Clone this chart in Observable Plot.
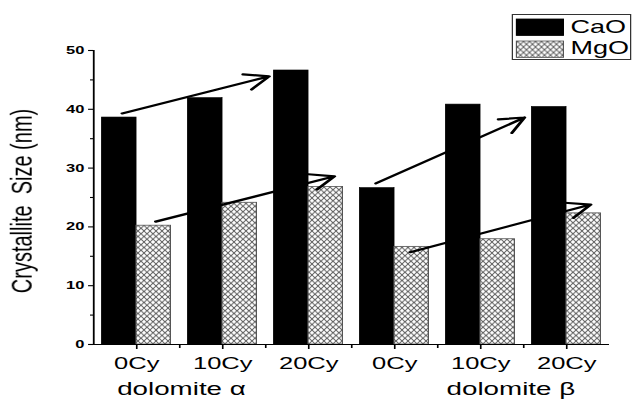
<!DOCTYPE html>
<html>
<head>
<meta charset="utf-8">
<script src="https://cdn.jsdelivr.net/npm/d3@7"></script>
<script src="https://cdn.jsdelivr.net/npm/@observablehq/plot@0.6"></script>
<style>
  html, body { margin: 0; padding: 0; background: #fff; overflow: hidden; }
  #stage { position: relative; width: 421.33px; height: 403px; transform: scaleX(1.5); transform-origin: 0 0; }
  #stage svg { display: block; }
</style>
</head>
<body>
<div id="stage"></div>
<script>
// Crystallite size of CaO and MgO after calcination cycles, two dolomites
const cycles = ["0Cy", "10Cy", "20Cy", "0Cy", "10Cy", "20Cy"];
const dolomite = ["α", "α", "α", "β", "β", "β"];
const caoSize = [38.6, 41.9, 46.6, 26.6, 40.8, 40.4];
const mgoSize = [20.2, 24.1, 26.8, 16.6, 17.9, 22.3];
const series = ["CaO", "MgO"];

// Group captions under the cycle labels
const groupNames = ["dolomite α", "dolomite β"];
const groupAt = [0.52, 4.35];

// Trend arrows drawn over the bars (x in category index, y in nm)
const trendX1 = [-0.17, 0.22, 2.78, 3.18];
const trendY1 = [39.3, 20.9, 27.4, 15.7];
const trendX2 = [1.54, 2.30, 4.51, 5.28];
const trendY2 = [45.6, 28.6, 38.6, 23.8];

const yTicks = [0, 10, 20, 30, 40, 50];
const yMinor = [5, 15, 25, 35, 45];

const rows = cycles.map((c, i) => ({i, cycle: c, dolomite: dolomite[i], cao: caoSize[i], mgo: mgoSize[i]}));
const trends = trendX1.map((x, k) => ({x1: x, y1: trendY1[k], x2: trendX2[k], y2: trendY2[k]}));
const groups = groupNames.map((g, k) => ({name: g, x: groupAt[k]}));

const font = "'Liberation Sans', Arial, sans-serif";
const W = 632 / 1.5;
const barW = 0.4;

function addHatch(svg, id) {
  const p = d3.select(svg).insert("defs", ":first-child")
    .append("pattern").attr("id", id)
    .attr("patternUnits", "userSpaceOnUse").attr("width", 4).attr("height", 5.5);
  p.append("rect").attr("width", 4).attr("height", 5.5).attr("fill", "#fff");
  p.append("path").attr("d", "M-1,-1.375L5,6.875M5,-1.375L-1,6.875")
    .attr("stroke", "#5a5a5a").attr("stroke-width", 0.75).attr("fill", "none");
}

const chart = Plot.plot({
  width: W,
  height: 403,
  marginLeft: 62,
  marginRight: 15.33,
  marginTop: 50,
  marginBottom: 59,
  x: {domain: [-0.5, 5.5], axis: null},
  y: {domain: [0, 50], axis: null},
  style: {fontFamily: font, color: "#000", background: "#fff", overflow: "visible"},
  marks: [
    Plot.rect(rows, {x1: d => d.i - barW, x2: d => d.i, y1: 0, y2: "cao", fill: "#000", stroke: "#000", strokeWidth: 0.6}),
    Plot.rect(rows, {x1: d => d.i, x2: d => d.i + barW, y1: 0, y2: "mgo", fill: "url(#xhatch)", stroke: "#555", strokeWidth: 0.8}),
    Plot.ruleY([0], {stroke: "#000", strokeWidth: 1.2}),
    Plot.ruleX([-0.5], {y1: 0, y2: 50, stroke: "#000", strokeWidth: 1.2}),
    Plot.axisY({ticks: yTicks, tickSize: 3.3, tickPadding: 3, fontSize: 11, fontWeight: "bold", label: null, strokeWidth: 1.1}),
    Plot.axisY({ticks: yMinor, tickSize: 2, tickFormat: () => "", label: null, strokeWidth: 1.1}),
    Plot.axisX({ticks: d3.range(cycles.length), tickFormat: i => cycles[i], tickSize: 5, tickPadding: 7, fontSize: 17, label: null, strokeWidth: 1.1}),
    Plot.axisX({ticks: d3.range(cycles.length - 1).map(i => i + 0.5), tickSize: 4, tickFormat: () => "", label: null, strokeWidth: 1.1}),
    Plot.text(groups, {x: "x", y: 0, text: "name", dy: 45, fontSize: 18.5, lineAnchor: "middle"}),
    Plot.text(["Crystallite\u00a0 Size (nm)"], {frameAnchor: "left", textAnchor: "middle", rotate: -90, dx: -47.7, dy: 3.5, fontSize: 20}),
    Plot.arrow(trends, {x1: "x1", y1: "y1", x2: "x2", y2: "y2", stroke: "#000", strokeWidth: 2.2, headLength: 12, headAngle: 55})
  ]
});
addHatch(chart, "xhatch");

const stage = document.getElementById("stage");
stage.appendChild(chart);

// Legend box in the top-right corner
const lg = d3.create("svg")
  .attr("width", 80).attr("height", 46)
  .style("position", "absolute").style("left", "341.3px").style("top", "14px")
  .style("font-family", font);
addHatch(lg.node(), "lhatch");
lg.append("rect").attr("x", 0.5).attr("y", 0.5).attr("width", 79).attr("height", 45)
  .attr("fill", "#fff").attr("stroke", "#333").attr("stroke-width", 1);
const swatchFill = ["#000", "url(#lhatch)"];
const swatchStroke = ["#000", "#555"];
series.forEach((s, k) => {
  lg.append("rect").attr("x", 3.3).attr("y", 5 + k * 22).attr("width", 31.3).attr("height", 16.5)
    .attr("fill", swatchFill[k]).attr("stroke", swatchStroke[k]).attr("stroke-width", 0.8);
  lg.append("text").attr("x", 39.3).attr("y", 19 + k * 21).attr("font-size", 18).attr("fill", "#000").text(s);
});
stage.appendChild(lg.node());
</script>
</body>
</html>
